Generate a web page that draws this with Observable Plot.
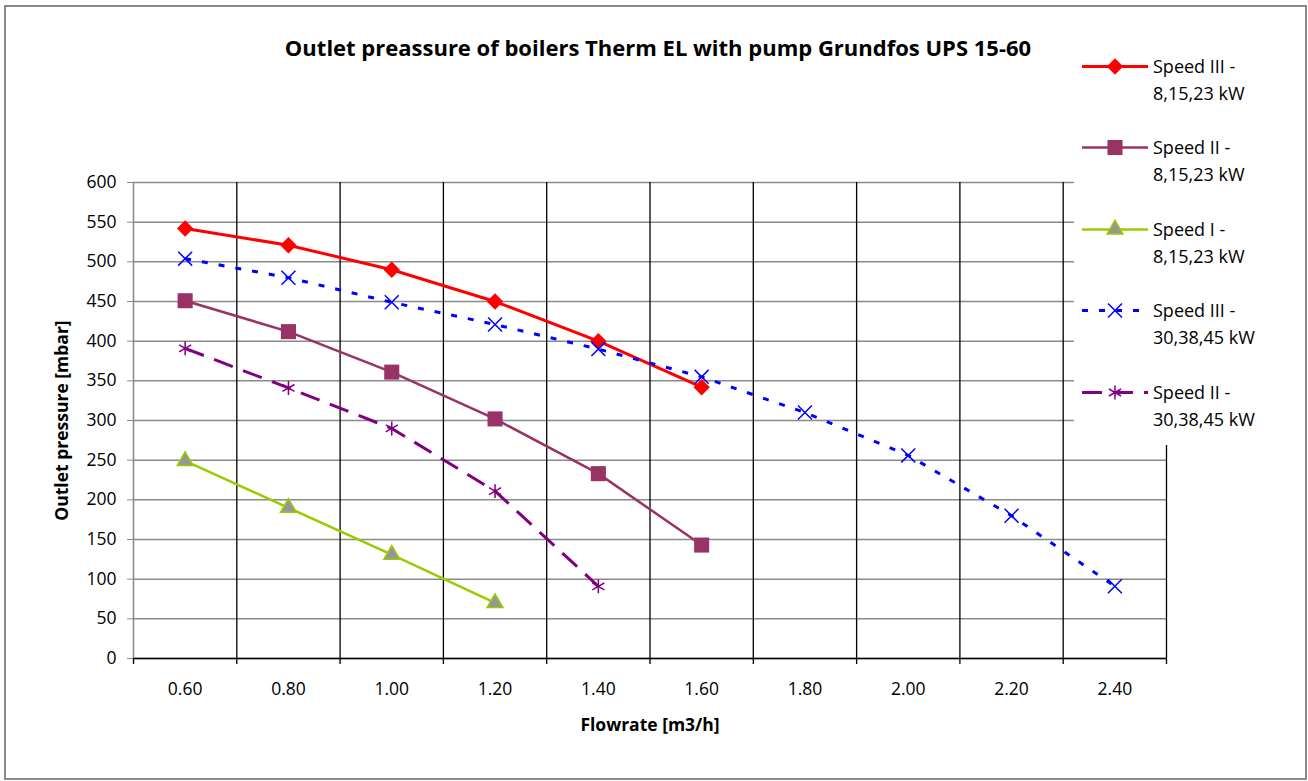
<!DOCTYPE html>
<html><head><meta charset="utf-8">
<script src="https://cdn.jsdelivr.net/npm/d3@7"></script>
<script src="https://cdn.jsdelivr.net/npm/@observablehq/plot@0.6"></script>
<style>
body{margin:0;background:#fff;}
#wrap{position:relative;width:1308px;height:781px;font-family:"Open Sans", sans-serif;overflow:hidden;}
#chart{position:absolute;left:0;top:0;}
#border{position:absolute;left:4px;top:5px;width:1299px;height:771px;border:2px solid #8a8a8a;pointer-events:none;}
#legend{position:absolute;left:1074px;top:40px;width:226px;height:405px;background:#fff;}
.entry{position:absolute;left:0;width:226px;height:60px;}
.entry svg{position:absolute;left:6px;top:0;}
.entry .txt{position:absolute;left:79px;top:0;font-size:18px;line-height:27px;color:#000;white-space:nowrap;}
</style></head><body>
<div id="wrap"><div id="chart"></div><div id="legend"></div><div id="border"></div></div>
<script>
// ---- data ----
const flowrate = [0.6, 0.8, 1.0, 1.2, 1.4, 1.6, 1.8, 2.0, 2.2, 2.4];
const yTicks = [0, 50, 100, 150, 200, 250, 300, 350, 400, 450, 500, 550, 600];
const speedIII_8 = [542, 521, 490, 450, 400, 342];
const speedII_8 = [451, 412, 361, 302, 233, 143];
const speedI_8 = [249, 190, 131, 70];
const speedIII_30 = [504, 480, 449, 421, 390, 355, 310, 256, 180, 91];
const speedII_30 = [391, 341, 290, 211, 91];
const seriesNames = [
  ["Speed III -", "8,15,23 kW"],
  ["Speed II -", "8,15,23 kW"],
  ["Speed I -", "8,15,23 kW"],
  ["Speed III -", "30,38,45 kW"],
  ["Speed II -", "30,38,45 kW"]
];
const seriesValues = [speedIII_8, speedII_8, speedI_8, speedIII_30, speedII_30];
const title = "Outlet preassure of boilers Therm EL with pump Grundfos UPS 15-60";
const xTitle = "Flowrate [m3/h]";
const yTitle = "Outlet pressure [mbar]";

// ---- styles ----
const styles = [
  {stroke: "#FF0000", width: 3, dash: null, symbol: "diamond2", r: 7.4, fill: "#FF0000", mstroke: "none", mw: 0},
  {stroke: "#993366", width: 2.5, dash: null, symbol: "square", r: 8.5, fill: "#993366", mstroke: "none", mw: 0},
  {stroke: "#99CC00", width: 2.5, dash: null, symbol: "triangle", r: 5.9, fill: "#969696", mstroke: "#99CC00", mw: 1.5},
  {stroke: "#0000FF", width: 3, dash: "6 11", symbol: "times", r: 6.4, fill: "none", mstroke: "#0000FF", mw: 1.5},
  {stroke: "#800080", width: 3, dash: "20 11", symbol: "asterisk", r: 6.6, fill: "none", mstroke: "#800080", mw: 1.5}
];

// category boundaries (between categories) derived from flowrate
const step = flowrate[1] - flowrate[0];
const bounds = [flowrate[0] - step / 2, ...flowrate.map(f => f + step / 2)];

const rowsList = seriesValues.map((vals, s) => vals.map((v, i) => ({s, x: flowrate[i], y: v})));

const seriesMarks = [];
rowsList.forEach((rows, s) => {
  const st = styles[s];
  seriesMarks.push(Plot.line(rows, {x: "x", y: "y", stroke: st.stroke, strokeWidth: st.width,
    strokeDasharray: st.dash, strokeLinecap: st.dash ? "butt" : "round", strokeLinejoin: "round"}));
});
rowsList.forEach((rows, s) => {
  const st = styles[s];
  seriesMarks.push(Plot.dot(rows, {x: "x", y: "y", symbol: st.symbol, r: st.r, fill: st.fill,
    stroke: st.mstroke, strokeWidth: st.mw}));
});

const chart = Plot.plot({
  width: 1308, height: 781,
  marginLeft: 133, marginRight: 142, marginTop: 182, marginBottom: 123,
  x: {type: "linear", domain: [bounds[0], bounds[bounds.length - 1]]},
  y: {type: "linear", domain: [0, 600]},
  style: {fontFamily: "'Open Sans', sans-serif", background: "transparent", color: "#000", overflow: "visible"},
  marks: [
    Plot.gridY(yTicks, {stroke: "#8a8a8a", strokeOpacity: 1, strokeWidth: 1.5}),
    Plot.ruleX(bounds.slice(1), {stroke: "#000", strokeWidth: 1.3}),
    Plot.ruleX([bounds[0]], {stroke: "#8a8a8a", strokeWidth: 1.5}),
    Plot.axisY(yTicks, {tickSize: 6, tickPadding: 11, stroke: "#8a8a8a", fill: "#000", fontSize: 17.5, label: null}),
    Plot.axisX(bounds, {tickSize: 6, tickFormat: () => "", stroke: "#000", strokeWidth: 1.3, label: null}),
    Plot.axisX(flowrate, {tickSize: 0, tickPadding: 31, tickFormat: d => d.toFixed(2), fontSize: 17.5, fill: "#000", label: null, lineAnchor: "middle"}),
    Plot.ruleY([0], {stroke: "#000", strokeWidth: 1.5}),
    ...seriesMarks,
    Plot.text([title], {frameAnchor: "top", lineAnchor: "middle", dy: -134, dx: 8, fontSize: 22, fontWeight: "bold", fill: "#000"}),
    Plot.text([xTitle], {frameAnchor: "bottom", lineAnchor: "middle", dy: 67, fontSize: 17.5, fontWeight: "bold", fill: "#000"}),
    Plot.text([yTitle], {frameAnchor: "left", textAnchor: "middle", lineAnchor: "middle", dx: -71, rotate: -90, fontSize: 17.5, fontWeight: "bold", fill: "#000"})
  ]
});
document.getElementById("chart").appendChild(chart);

// ---- legend ----
const legend = document.getElementById("legend");
const symMap = {diamond2: d3.symbolDiamond2, square: d3.symbolSquare, triangle: d3.symbolTriangle, times: d3.symbolTimes, asterisk: d3.symbolAsterisk};
seriesNames.forEach((name, i) => {
  const st = styles[i];
  const e = document.createElement("div");
  e.className = "entry";
  e.style.top = (12.5 + i * 81.6) + "px";
  const svg = d3.create("svg").attr("width", 70).attr("height", 27);
  svg.append("line").attr("x1", 2).attr("x2", 68).attr("y1", 13.5).attr("y2", 13.5)
    .attr("stroke", st.stroke).attr("stroke-width", st.width)
    .attr("stroke-dasharray", st.dash).attr("stroke-linecap", "butt");
  svg.append("path").attr("transform", "translate(35,13.5)")
    .attr("d", d3.symbol(symMap[st.symbol], st.r * st.r * Math.PI)())
    .attr("fill", st.fill).attr("stroke", st.mstroke).attr("stroke-width", st.mw);
  e.appendChild(svg.node());
  const t = document.createElement("div");
  t.className = "txt";
  t.innerHTML = name[0] + "<br>" + name[1];
  e.appendChild(t);
  legend.appendChild(e);
});
</script>
</body></html>
